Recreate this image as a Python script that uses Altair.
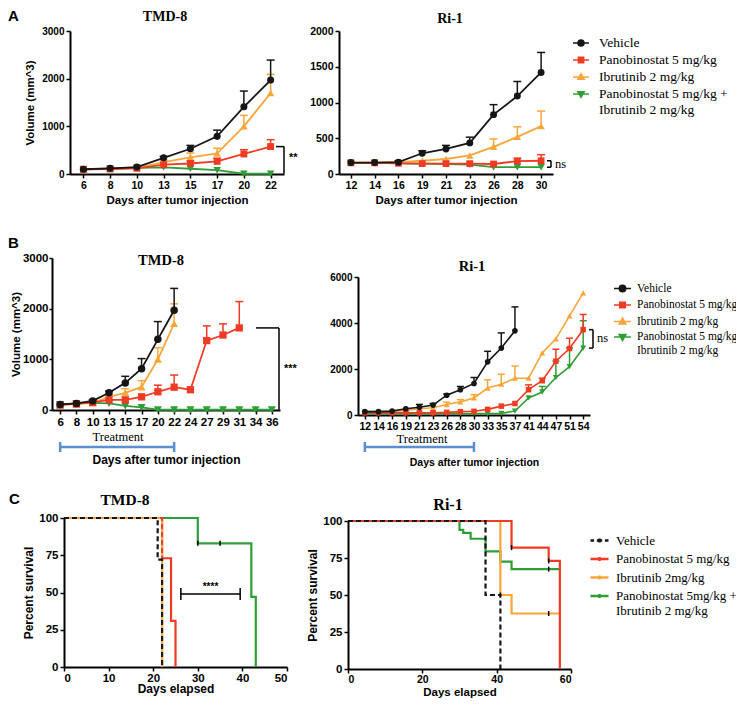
import altair as alt
import pandas as pd

W, H = 728, 691
MARGIN = 8


def px(v):
    """page pixel -> chart pixel"""
    return v - MARGIN


BLACK = "#161616"
RED = "#ef3b24"
ORANGE = "#f6a63a"
GREEN = "#2f9e36"
BLUE = "#5b8fd0"

COLORS = {"vehicle": BLACK, "pano": RED, "ibr": ORANGE, "combo": GREEN}
SHAPES = {"vehicle": "circle", "pano": "square", "ibr": "triangle-up", "combo": "triangle-down"}
SHAPE_SCALE = {"vehicle": 1.0, "pano": 0.95, "ibr": 1.15, "combo": 1.15}
DRAW_ORDER = ["combo", "ibr", "pano", "vehicle"]

# ---------------- Panel A : TMD-8 ----------------
A_TMD8_days = [6, 8, 10, 13, 15, 17, 20, 22]
A_TMD8_vehicle = [100, 120, 145, 340, 530, 790, 1410, 1970]
A_TMD8_vehicle_top = [None, None, None, 370, 600, 920, 1740, 2390]
A_TMD8_pano = [100, 105, 120, 195, 220, 265, 420, 575]
A_TMD8_pano_top = [None, None, None, None, 270, 330, 510, 720]
A_TMD8_ibr = [95, 110, 130, 250, 350, 430, 1000, 1700]
A_TMD8_ibr_top = [None, None, None, 290, 440, 540, 1230, 2090]
A_TMD8_combo = [100, 110, 130, 140, 110, 80, 5, 5]
A_TMD8_combo_top = [None] * 8

# ---------------- Panel A : Ri-1 ----------------
A_RI1_days = [12, 14, 16, 19, 21, 23, 26, 28, 30]
A_RI1_vehicle = [160, 160, 165, 290, 350, 435, 830, 1090, 1420]
A_RI1_vehicle_top = [None, None, 185, 325, 400, 515, 970, 1295, 1700]
A_RI1_pano = [155, 155, 150, 145, 145, 145, 140, 180, 185]
A_RI1_pano_top = [None, None, None, None, None, None, None, 220, 270]
A_RI1_ibr = [160, 160, 165, 185, 210, 260, 380, 520, 670]
A_RI1_ibr_top = [None, None, None, None, None, None, 490, 660, 880]
A_RI1_combo = [155, 155, 150, 145, 140, 130, 95, 95, 95]
A_RI1_combo_top = [None] * 9

# ---------------- Panel B : TMD-8 ----------------
B_TMD8_days = [6, 8, 10, 13, 15, 17, 20, 22, 24, 27, 29, 31, 34, 36]
B_TMD8_vehicle = [110, 130, 180, 340, 535, 815, 1395, 1970, None, None, None, None, None, None]
B_TMD8_vehicle_top = [None, None, 200, 370, 665, 1015, 1745, 2400, None, None, None, None, None, None]
B_TMD8_pano = [100, 120, 150, 200, 200, 260, 360, 450, 400, 1370, 1480, 1620, None, None]
B_TMD8_pano_top = [None, None, None, None, None, None, 490, 690, None, 1660, 1700, 2140, None, None]
B_TMD8_ibr = [100, 120, 140, 260, 340, 455, 1000, 1705, None, None, None, None, None, None]
B_TMD8_ibr_top = [None, None, None, 300, 420, 580, 1230, 2095, None, None, None, None, None, None]
B_TMD8_combo = [110, 130, 140, 130, 80, 50, 5, 5, 5, 5, 5, 5, 5, 5]
B_TMD8_combo_top = [None] * 14

# ---------------- Panel B : Ri-1 ----------------
B_RI1_days = [12, 14, 16, 19, 21, 23, 26, 28, 30, 33, 35, 37, 41, 44, 47, 51, 54]
B_RI1_vehicle = [145, 145, 170, 270, 340, 430, 860, 1100, 1370, 2310, 2910, 3660, None, None, None, None, None]
B_RI1_vehicle_top = [None, None, None, None, 460, 500, 915, 1240, 1630, 2770, 3570, 4700, None, None, None, None, None]
B_RI1_pano = [100, 100, 100, 100, 100, 100, 115, 145, 160, 245, 385, 500, 1100, 1490, 2340, 2890, 3710]
B_RI1_pano_top = [None] * 12 + [1310, 1600, 2860, 3340, 4370]
B_RI1_ibr = [145, 145, 150, 200, 270, 315, 455, 570, 740, 1170, 1340, 1600, 1600, 2700, 3310, 4310, 5310]
B_RI1_ibr_top = [None, None, None, None, None, None, 560, 670, 885, 1530, 1770, 2130, None, None, None, None, None]
B_RI1_combo = [60, 60, 60, 60, 60, 60, 60, 60, 60, 60, 70, 170, 740, 1000, 1630, 2100, 2910]
B_RI1_combo_top = [None] * 13 + [1240, 2340, 2910, 4100]

# ---------------- Panel C : survival (Kaplan-Meier steps) ----------------
C_TMD8_vehicle_t = [0, 21, 22]
C_TMD8_vehicle_s = [100, 72, 0]
C_TMD8_pano_t = [0, 22, 24, 25]
C_TMD8_pano_s = [100, 73, 31, 0]
C_TMD8_ibr_t = [0, 22]
C_TMD8_ibr_s = [100, 0]
C_TMD8_combo_t = [0, 30, 42, 43]
C_TMD8_combo_s = [100, 83, 47, 0]
C_TMD8_censor_t = [30, 35]
C_TMD8_censor_s = [83, 83]

C_RI1_vehicle_t = [0, 37, 41]
C_RI1_vehicle_s = [100, 50, 0]
C_RI1_pano_t = [0, 44, 54, 57]
C_RI1_pano_s = [100, 82, 73, 0]
C_RI1_ibr_t = [0, 41, 44, 57]
C_RI1_ibr_s = [100, 50, 37.5, 37.5]
C_RI1_combo_t = [0, 30, 31, 33, 37, 41, 44, 57]
C_RI1_combo_s = [100, 94, 92, 88, 79.5, 72.5, 67.5, 67.5]
C_RI1_censor_t = [41, 44, 54, 54, 54]
C_RI1_censor_s = [50, 82, 73, 67.5, 37.5]

# significance bracket (panel C, TMD-8)
C_TMD8_bracket_t = [26.2, 39.5]
C_TMD8_bracket_s = 49

# legends
LEG_A = ["Vehicle", "Panobinostat 5 mg/kg", "Ibrutinib 2 mg/kg",
         "Panobinostat 5 mg/kg +|Ibrutinib 2 mg/kg"]
LEG_B = ["Vehicle", "Panobinostat 5 mg/kg", "Ibrutinib 2 mg/kg",
         "Panobinostat 5 mg/kg|Ibrutinib 2 mg/kg"]
LEG_C = ["Vehicle", "Panobinostat 5 mg/kg", "Ibrutinib 2mg/kg",
         "Panobinostat 5mg/kg +|Ibrutinib 2 mg/kg"]
LEG_COLORS = [BLACK, RED, ORANGE, GREEN]
P_CIRCLE = "M-1,0H1M0.38,0A0.38,0.38,0,1,1,-0.38,0A0.38,0.38,0,1,1,0.38,0Z"
P_SQUARE = "M-1,0H1M-0.33,-0.33H0.33V0.33H-0.33Z"
P_TUP = "M-1,0H1M0,-0.42L0.4,0.28H-0.4Z"
P_TDOWN = "M-1,0H1M0,0.42L0.4,-0.28H-0.4Z"
P_KM = "M-1,0H1M0,-0.22V0.22"
P_KM_DASH = "M-1,0H-0.6M-0.3,0H0.3M0.6,0H1M0,-0.22V0.22"

AXIS_STYLE = dict(domainColor="black", domainWidth=2, tickColor="black", tickWidth=1.5,
                  labelFont="Liberation Sans", labelFontWeight="bold",
                  labelColor="black", titleFont="Liberation Sans", titleFontWeight="bold",
                  titleColor="black", grid=False, labelOverlap=False)


def x_axis(y_page, label_size, title=None, title_size=11.5, title_pad=4, values=None,
           tick=4, label_pad=2):
    kw = dict(orient="bottom", offset=px(y_page) - H, labelAngle=0, tickSize=tick,
              labelPadding=label_pad, labelFontSize=label_size, **AXIS_STYLE)
    if title:
        kw.update(title=title, titleFontSize=title_size, titlePadding=title_pad)
    else:
        kw.update(title=None)
    if values is not None:
        kw["values"] = values
    return alt.Axis(**kw)


def y_axis(x_page, label_size, values, title=None, title_size=11.5, title_pad=4,
           tick=4, label_pad=2):
    kw = dict(orient="left", offset=-px(x_page), values=values, format="d", tickSize=tick,
              labelPadding=label_pad, labelFontSize=label_size, **AXIS_STYLE)
    if title:
        kw.update(title=title, titleFontSize=title_size, titlePadding=title_pad)
    else:
        kw.update(title=None)
    return alt.Axis(**kw)


def growth_panel(days, data, xr, yr, ymax, xax, yax, msize, lw, cap, extras):
    xs = alt.Scale(type="point", domain=days, range=[px(xr[0]), px(xr[1])], padding=0.5)
    ys = alt.Scale(domain=[0, ymax], range=[px(yr[0]), px(yr[1])], nice=False, zero=False)
    layers = []
    first = True
    for key in DRAW_ORDER:
        mean, top = data[key]
        c = COLORS[key]
        pts = pd.DataFrame([dict(day=d, mean=m) for d, m in zip(days, mean) if m is not None])
        err = pd.DataFrame([dict(day=d, mean=m, top=t) for d, m, t in zip(days, mean, top)
                            if m is not None and t is not None])
        ax_x = xax if first else None
        ax_y = yax if first else None
        first = False
        layers.append(alt.Chart(pts).mark_line(color=c, strokeWidth=lw).encode(
            x=alt.X("day:O", scale=xs, axis=ax_x),
            y=alt.Y("mean:Q", scale=ys, axis=ax_y)))
        if len(err):
            layers.append(alt.Chart(err).mark_rule(color=c, strokeWidth=1.5).encode(
                x=alt.X("day:O", scale=xs, axis=None),
                y=alt.Y("mean:Q", scale=ys, axis=None), y2="top:Q"))
            layers.append(alt.Chart(err).mark_tick(orient="horizontal", color=c, size=cap,
                                                   thickness=1.5, opacity=1).encode(
                x=alt.X("day:O", scale=xs, axis=None),
                y=alt.Y("top:Q", scale=ys, axis=None)))
        layers.append(alt.Chart(pts).mark_point(shape=SHAPES[key], filled=True, color=c,
                                                opacity=1,
                                                size=msize * SHAPE_SCALE[key]).encode(
            x=alt.X("day:O", scale=xs, axis=None),
            y=alt.Y("mean:Q", scale=ys, axis=None)))
    for ex in extras:
        layers.extend(ex(xs, ys))
    return layers


def km_panel(curves, censor, xr, yr, xmax, xax, yax, extras):
    xs = alt.Scale(domain=[0, xmax], range=[px(xr[0]), px(xr[1])], nice=False, zero=False)
    ys = alt.Scale(domain=[0, 100], range=[px(yr[0]), px(yr[1])], nice=False, zero=False)
    layers = []
    first = True
    for key, t, s, dash, doff, sw in curves:
        df = pd.DataFrame({"t": t, "s": s})
        mk = dict(interpolate="step-after", color=COLORS[key], strokeWidth=sw)
        if dash:
            mk.update(strokeDash=dash, strokeDashOffset=doff)
        layers.append(alt.Chart(df).mark_line(**mk).encode(
            x=alt.X("t:Q", scale=xs, axis=xax if first else None),
            y=alt.Y("s:Q", scale=ys, axis=yax if first else None)))
        first = False
    ct, cs = censor
    layers.append(alt.Chart(pd.DataFrame({"t": ct, "s": cs})).mark_tick(
        orient="vertical", color="black", size=5, thickness=1.5, opacity=1).encode(
        x=alt.X("t:Q", scale=xs, axis=None), y=alt.Y("s:Q", scale=ys, axis=None)))
    for ex in extras:
        layers.extend(ex(xs, ys))
    return layers


def legend_layer(labels, paths, lx, ly, font_size, row_pad, sym_size, label_offset, sw):
    leg = alt.Legend(orient="none", legendX=px(lx), legendY=px(ly), title=None,
                     labelFont="Liberation Serif", labelFontSize=font_size,
                     labelColor="black", labelLimit=400, symbolSize=sym_size,
                     symbolStrokeWidth=sw, rowPadding=row_pad, labelOffset=label_offset,
                     padding=0, labelExpr="split(datum.label, '|')")
    return alt.Chart(pd.DataFrame({"series": labels})).transform_filter("false").mark_point(
        filled=True, opacity=1, strokeWidth=sw).encode(
        fill=alt.Fill("series:N", scale=alt.Scale(domain=labels, range=LEG_COLORS), legend=leg),
        stroke=alt.Stroke("series:N", scale=alt.Scale(domain=labels, range=LEG_COLORS), legend=leg),
        shape=alt.Shape("series:N", scale=alt.Scale(domain=labels, range=paths), legend=leg))


def text_layer(label, x, y, size, font="Liberation Serif", weight="bold", align="center"):
    return alt.Chart(pd.DataFrame({"label": [label]})).mark_text(
        font=font, fontSize=size, fontWeight=weight, align=align, baseline="middle",
        color="black").encode(x=alt.value(px(x)), y=alt.value(px(y)), text="label:N")


# ---------- annotation helpers (y in data units, x in page pixels) ----------
def sig_bracket(x_left, x_right, y_top, y_bottom, label, label_x, label_y, label_font,
                label_weight, label_size, caps=False):
    def build(xs, ys):
        parts = [alt.Chart(pd.DataFrame({"v": [y_top]})).mark_rule(
            color="black", strokeWidth=1.5).encode(
            x=alt.value(px(x_left)), x2=alt.value(px(x_right)),
            y=alt.Y("v:Q", scale=ys, axis=None))]
        if caps:
            parts.append(alt.Chart(pd.DataFrame({"v": [y_bottom]})).mark_rule(
                color="black", strokeWidth=1.5).encode(
                x=alt.value(px(x_left)), x2=alt.value(px(x_right)),
                y=alt.Y("v:Q", scale=ys, axis=None)))
        parts.append(alt.Chart(pd.DataFrame({"a": [y_top], "b": [y_bottom]})).mark_rule(
            color="black", strokeWidth=1.5).encode(
            x=alt.value(px(x_right)), y=alt.Y("a:Q", scale=ys, axis=None), y2="b:Q"))
        parts.append(alt.Chart(pd.DataFrame({"v": [label_y], "label": [label]})).mark_text(
            font=label_font, fontWeight=label_weight, fontSize=label_size, align="left",
            baseline="middle", color="black").encode(
            x=alt.value(px(label_x)), y=alt.Y("v:Q", scale=ys, axis=None), text="label:N"))
        return parts
    return build


def treatment_bracket(d0, d1, y_page):
    def build(xs, ys):
        df = pd.DataFrame({"day": [d0, d1]})
        line = alt.Chart(df).mark_line(color=BLUE, strokeWidth=2.5).encode(
            x=alt.X("day:O", scale=xs, axis=None), y=alt.value(px(y_page)))
        ends = alt.Chart(df).mark_rule(color=BLUE, strokeWidth=2.5).encode(
            x=alt.X("day:O", scale=xs, axis=None),
            y=alt.value(px(y_page - 5)), y2=alt.value(px(y_page + 5)))
        return [line, ends]
    return build


def km_bracket(ts, level, label):
    def build(xs, ys):
        df = pd.DataFrame({"t0": [ts[0]], "t1": [ts[1]], "s": [level]})
        h = alt.Chart(df).mark_rule(color="black", strokeWidth=1.5).encode(
            x=alt.X("t0:Q", scale=xs, axis=None), x2="t1:Q",
            y=alt.Y("s:Q", scale=ys, axis=None))
        ends_df = pd.DataFrame({"t": ts, "lo": [level - 4] * 2, "hi": [level + 4] * 2})
        ends = alt.Chart(ends_df).mark_rule(color="black", strokeWidth=1.5).encode(
            x=alt.X("t:Q", scale=xs, axis=None),
            y=alt.Y("lo:Q", scale=ys, axis=None), y2="hi:Q")
        txt = alt.Chart(pd.DataFrame({"t": [(ts[0] + ts[1]) / 2], "s": [level + 5],
                                      "label": [label]})).mark_text(
            font="Liberation Sans", fontWeight="bold", fontSize=10, baseline="middle",
            color="black").encode(
            x=alt.X("t:Q", scale=xs, axis=None), y=alt.Y("s:Q", scale=ys, axis=None),
            text="label:N")
        return [h, ends, txt]
    return build


# ---------------- build panels ----------------
panel_a1 = growth_panel(
    A_TMD8_days,
    {"vehicle": (A_TMD8_vehicle, A_TMD8_vehicle_top), "pano": (A_TMD8_pano, A_TMD8_pano_top),
     "ibr": (A_TMD8_ibr, A_TMD8_ibr_top), "combo": (A_TMD8_combo, A_TMD8_combo_top)},
    xr=(70, 284), yr=(174, 31), ymax=3000,
    xax=x_axis(174, 10.5, "Days after tumor injection", 11.5, 4),
    yax=y_axis(70, 10, [0, 1000, 2000, 3000], "Volume (mm^3)", 11.5, 6),
    msize=50, lw=1.8, cap=8,
    extras=[sig_bracket(276, 284, A_TMD8_pano[-1], A_TMD8_combo[-1], "**", 289, 330,
                        "Liberation Sans", "bold", 11)])

panel_a2 = growth_panel(
    A_RI1_days,
    {"vehicle": (A_RI1_vehicle, A_RI1_vehicle_top), "pano": (A_RI1_pano, A_RI1_pano_top),
     "ibr": (A_RI1_ibr, A_RI1_ibr_top), "combo": (A_RI1_combo, A_RI1_combo_top)},
    xr=(339, 553), yr=(174, 31), ymax=2000,
    xax=x_axis(174, 10.5, "Days after tumor injection", 11.5, 4),
    yax=y_axis(339, 10.5, [0, 500, 1000, 1500, 2000]),
    msize=48, lw=1.8, cap=8,
    extras=[sig_bracket(547, 551, A_RI1_pano[-1], A_RI1_combo[-1], "ns", 555, 140,
                        "Liberation Serif", "normal", 12.5, caps=True)])

panel_b1 = growth_panel(
    B_TMD8_days,
    {"vehicle": (B_TMD8_vehicle, B_TMD8_vehicle_top), "pano": (B_TMD8_pano, B_TMD8_pano_top),
     "ibr": (B_TMD8_ibr, B_TMD8_ibr_top), "combo": (B_TMD8_combo, B_TMD8_combo_top)},
    xr=(52, 280), yr=(410, 258), ymax=3000,
    xax=x_axis(410, 11.5, "Days after tumor injection", 12, 27),
    yax=y_axis(52, 11.5, [0, 1000, 2000, 3000], "Volume (mm^3)", 11.5, 1,
               tick=3, label_pad=1),
    msize=56, lw=1.8, cap=8,
    extras=[sig_bracket(256, 279, B_TMD8_pano[11], B_TMD8_combo[-1], "***", 284, 810,
                        "Liberation Sans", "bold", 11),
            treatment_bracket(6, 22, 447)])

panel_b2 = growth_panel(
    B_RI1_days,
    {"vehicle": (B_RI1_vehicle, B_RI1_vehicle_top), "pano": (B_RI1_pano, B_RI1_pano_top),
     "ibr": (B_RI1_ibr, B_RI1_ibr_top), "combo": (B_RI1_combo, B_RI1_combo_top)},
    xr=(358, 590), yr=(415, 277), ymax=6000,
    xax=x_axis(415, 10.5, "Days after tumor injection", 10.5, 26),
    yax=y_axis(358, 10, [0, 2000, 4000, 6000]),
    msize=32, lw=1.6, cap=7,
    extras=[sig_bracket(589, 593, B_RI1_pano[-1], B_RI1_combo[-1], "ns", 597, 3330,
                        "Liberation Serif", "normal", 12.5, caps=True),
            treatment_bracket(12, 30, 447)])

panel_c1 = km_panel(
    [("combo", C_TMD8_combo_t, C_TMD8_combo_s, None, 0, 2.2),
     ("pano", C_TMD8_pano_t, C_TMD8_pano_s, None, 0, 2.2),
     ("vehicle", C_TMD8_vehicle_t, C_TMD8_vehicle_s, [5, 3], 0, 2.2),
     ("ibr", C_TMD8_ibr_t, C_TMD8_ibr_s, [3, 5], 3, 2.2)],
    (C_TMD8_censor_t, C_TMD8_censor_s),
    xr=(64, 287), yr=(667, 518), xmax=50,
    xax=x_axis(667, 11.5, "Days elapsed", 12, 0, values=[0, 10, 20, 30, 40, 50],
               label_pad=1),
    yax=y_axis(64, 11.5, [0, 25, 50, 75, 100], "Percent survival", 12, 3),
    extras=[km_bracket(C_TMD8_bracket_t, C_TMD8_bracket_s, "****")])

panel_c2 = km_panel(
    [("combo", C_RI1_combo_t, C_RI1_combo_s, None, 0, 2.2),
     ("ibr", C_RI1_ibr_t, C_RI1_ibr_s, None, 0, 2.2),
     ("pano", C_RI1_pano_t, C_RI1_pano_s, None, 0, 2.2),
     ("vehicle", C_RI1_vehicle_t, C_RI1_vehicle_s, [5, 3], 0, 2.2)],
    (C_RI1_censor_t, C_RI1_censor_s),
    xr=(348, 571), yr=(669, 521), xmax=60,
    xax=x_axis(669, 10.5, "Days elapsed", 11.5, 1.5, values=[0, 20, 40, 60], label_pad=1),
    yax=y_axis(348, 11.5, [0, 25, 50, 75, 100], "Percent survival", 12, 3),
    extras=[])

legends = [
    legend_layer(LEG_A, [P_CIRCLE, P_SQUARE, P_TUP, P_TDOWN], 572, 34, 13.5, 1, 256, 9, 1.5),
    legend_layer(LEG_B, [P_CIRCLE, P_SQUARE, P_TUP, P_TDOWN], 613, 279, 11.5, 0.5, 289, 5, 1.5),
    legend_layer(LEG_C, [P_KM_DASH, P_KM, P_KM, P_KM], 589, 530, 13, 0.5, 324, 6, 2.5),
]

texts = [
    text_layer("A", 8, 16, 15, font="Liberation Sans", align="left"),
    text_layer("B", 8, 243, 15, font="Liberation Sans", align="left"),
    text_layer("C", 9, 499, 15, font="Liberation Sans", align="left"),
    text_layer("TMD-8", 165, 17, 14),
    text_layer("Ri-1", 450, 19, 14),
    text_layer("TMD-8", 161, 261, 14.5),
    text_layer("Ri-1", 472, 267, 14.5),
    text_layer("TMD-8", 125, 500, 15.5),
    text_layer("Ri-1", 448, 505, 16),
    text_layer("Treatment", 118, 437, 12.5, weight="normal"),
    text_layer("Treatment", 422, 439, 12.5, weight="normal"),
]

all_layers = (panel_a1 + panel_a2 + panel_b1 + panel_b2 + panel_c1 + panel_c2
              + legends + texts)

chart = alt.layer(*all_layers).resolve_scale(
    x="independent", y="independent", fill="independent", stroke="independent",
    shape="independent"
).resolve_axis(
    x="independent", y="independent"
).properties(
    width=W, height=H, padding=0, background="white",
    autosize=alt.AutoSizeParams(type="none")
).configure_view(stroke=None)

chart.save("out.html", embed_options={"renderer": "svg", "actions": False})
